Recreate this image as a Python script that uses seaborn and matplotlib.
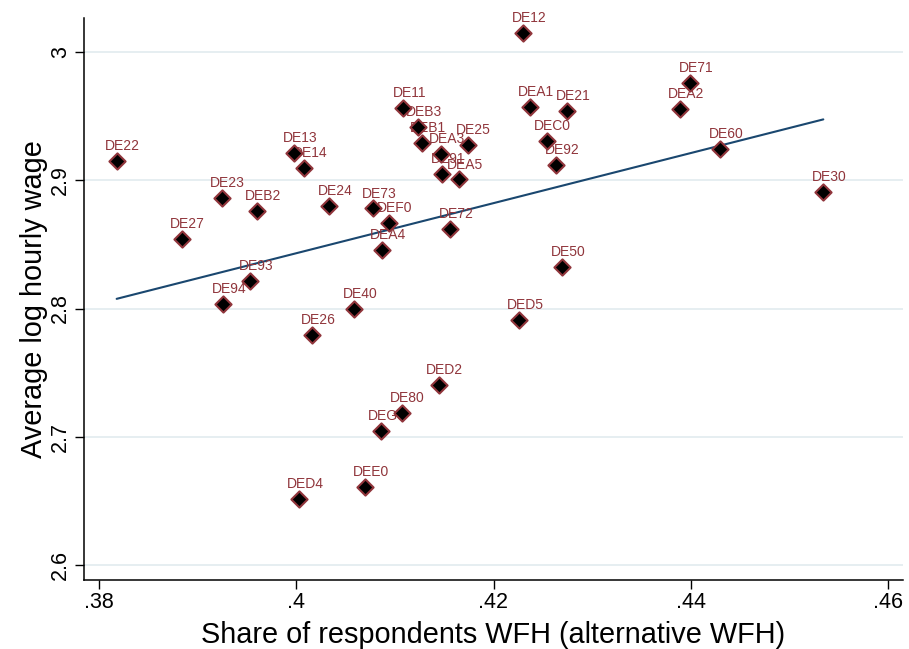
import matplotlib
matplotlib.use("Agg")
import matplotlib.pyplot as plt
import seaborn as sns
import pandas as pd

# NUTS-2 regions with their work-from-home share and average log hourly wage
regions = ["DE22", "DE27", "DE23", "DE94", "DE93", "DEB2", "DE13", "DE14",
           "DE26", "DED4", "DE24", "DE40", "DEE0", "DE73", "DEF0", "DEA4",
           "DEG0", "DE80", "DE11", "DEB3", "DEB1", "DEA3", "DE91", "DEA5",
           "DE25", "DED2", "DE72", "DE12", "DEA1", "DE21", "DEC0", "DE92",
           "DED5", "DE50", "DEA2", "DE71", "DE60", "DE30"]
wfh_share = [0.38179, 0.38839, 0.39244, 0.39260, 0.39534, 0.39602, 0.39977, 0.40079,
             0.40160, 0.40028, 0.40332, 0.40586, 0.40697, 0.40783, 0.40940, 0.40873,
             0.40859, 0.41069, 0.41085, 0.41231, 0.41275, 0.41468, 0.41478, 0.41653,
             0.41738, 0.41447, 0.41559, 0.42299, 0.42373, 0.42748, 0.42539, 0.42634,
             0.42259, 0.42695, 0.43891, 0.43992, 0.44296, 0.45344]
log_wage = [2.9152, 2.8542, 2.8864, 2.8033, 2.8214, 2.8760, 2.9216, 2.9093,
            2.7793, 2.6515, 2.8799, 2.7998, 2.6611, 2.8781, 2.8667, 2.8459,
            2.7047, 2.7188, 2.9566, 2.9418, 2.9293, 2.9207, 2.9049, 2.9007,
            2.9277, 2.7401, 2.8618, 3.0148, 2.9574, 2.9540, 2.9304, 2.9121,
            2.7910, 2.8324, 2.9556, 2.9758, 2.9244, 2.8906]

x_ticks = [0.38, 0.40, 0.42, 0.44, 0.46]
x_tick_labels = [".38", ".4", ".42", ".44", ".46"]
y_ticks = [2.6, 2.7, 2.8, 2.9, 3.0]
y_tick_labels = ["2.6", "2.7", "2.8", "2.9", "3"]

df = pd.DataFrame({"region": regions, "wfh": wfh_share, "wage": log_wage})

sns.set_style("white", {"xtick.bottom": True, "ytick.left": True,
                        "text.color": "black", "axes.labelcolor": "black",
                        "xtick.color": "black", "ytick.color": "black"})
plt.rcParams["font.family"] = ["Liberation Sans", "DejaVu Sans"]

MAROON = "#90353b"
NAVY = "#1a476f"
GRID = "#e4edf0"

fig = plt.figure(figsize=(9.09, 6.49), dpi=100)
ax = fig.add_axes([84 / 909, 1 - 580 / 649, (903 - 84) / 909, (580 - 18) / 649])

# horizontal grid lines only
for yt in y_ticks:
    ax.axhline(yt, color=GRID, lw=1.3, zorder=0)

# fitted line over the observed range
sns.regplot(data=df, x="wfh", y="wage", scatter=False, ci=None, truncate=True,
            line_kws={"color": NAVY, "lw": 1.5, "zorder": 1}, ax=ax)

# region labels sit under the markers
for name, xv, yv in zip(regions, wfh_share, log_wage):
    ax.annotate(name, (xv, yv), xytext=(4.3, 7.8), textcoords="offset points",
                ha="center", va="baseline", fontsize=10, color=MAROON, zorder=2)

sns.scatterplot(data=df, x="wfh", y="wage", marker="D", s=68, color="black",
                edgecolor=MAROON, linewidth=1.5, zorder=3, ax=ax)

ax.set_xlim(0.38 - 15 / 9862.5, 0.46 + 15 / 9862.5)
ax.set_ylim(2.6 - 15 / 1282.5, 3.0 + 34 / 1282.5)

ax.set_xticks(x_ticks)
ax.set_xticklabels(x_tick_labels)
ax.set_yticks(y_ticks)
ax.set_yticklabels(y_tick_labels, rotation=90, va="center")

ax.tick_params(axis="both", which="major", length=6.5, width=1.0, color="black",
               labelcolor="black", labelsize=15.5, direction="out",
               bottom=True, left=True)
ax.tick_params(axis="x", pad=2)
ax.tick_params(axis="y", pad=3)

for side in ["top", "right"]:
    ax.spines[side].set_visible(False)
for side in ["left", "bottom"]:
    ax.spines[side].set_color("black")
    ax.spines[side].set_linewidth(1.1)

ax.set_xlabel("Share of respondents WFH (alternative WFH)", fontsize=20.8,
              labelpad=6, color="black")
ax.set_ylabel("Average log hourly wage", fontsize=20.8, labelpad=1, color="black")

fig.savefig("out.png", dpi=100, facecolor="white")
